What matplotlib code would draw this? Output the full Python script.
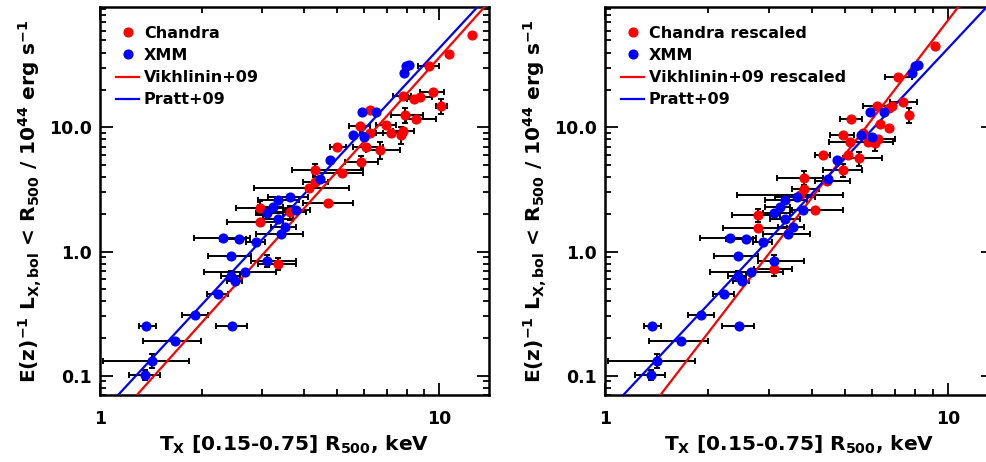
import numpy as np
import matplotlib
matplotlib.use('Agg')
import matplotlib.pyplot as plt
from matplotlib.lines import Line2D
from matplotlib.ticker import FixedLocator, LogLocator, NullFormatter, FixedFormatter

plt.rcParams['font.family'] = ['DejaVu Sans']
plt.rcParams['font.weight'] = 'bold'
plt.rcParams['axes.labelweight'] = 'bold'
plt.rcParams['mathtext.fontset'] = 'custom'
plt.rcParams['mathtext.rm'] = 'DejaVu Sans:bold'
plt.rcParams['mathtext.it'] = 'DejaVu Sans:bold'
plt.rcParams['mathtext.bf'] = 'DejaVu Sans:bold'
plt.rcParams['mathtext.default'] = 'rm'

# ---- Chandra (original calibration), left panel
t_ch = [12.48, 10.65, 9.30, 9.56, 8.77, 8.40, 7.80, 10.12, 7.94, 8.54, 6.25, 5.85, 6.97, 7.21, 6.23,
        7.80, 7.71, 5.00, 6.09, 6.69, 5.89, 4.31, 5.16, 4.29, 4.12, 4.69, 3.64, 2.96, 2.96, 3.35]
l_ch = [55.4, 38.7, 31.0, 19.2, 17.7, 16.9, 17.9, 14.9, 12.6, 11.7, 13.8, 10.3, 10.5, 9.07, 9.07,
        9.36, 8.69, 7.0, 7.0, 6.58, 5.24, 4.54, 4.32, 3.64, 3.24, 2.48, 2.07, 2.25, 1.74, 0.797]
t_ch_lo = [12.48, 10.65, 8.63, 8.79, 8.07, 8.00, 7.29, 9.78, 7.21, 7.98, 6.25, 5.43, 6.51, 6.51, 5.82,
           7.29, 7.71, 4.75, 5.56, 6.09, 5.26, 3.68, 4.24, 3.96, 2.84, 3.96, 3.15, 2.51, 2.36, 2.92]
t_ch_hi = [12.48, 10.65, 9.95, 10.35, 9.52, 8.90, 8.25, 10.5, 8.94, 9.78, 6.25, 6.23, 7.46, 7.98, 6.81,
           8.44, 7.71, 5.32, 6.81, 7.63, 6.58, 5.95, 5.95, 4.69, 5.41, 5.58, 4.05, 3.62, 3.46, 3.79]
l_ch_frac = [0, 0, 0, 0, 0, 0, 0, 0.14, 0.14, 0, 0, 0, 0, 0, 0,
             0, 0.15, 0, 0, 0.15, 0.13, 0.12, 0, 0, 0, 0, 0.13, 0.13, 0, 0.11]

# ---- Chandra rescaled, right panel
t_cr = [9.17, 7.16, 7.36, 6.85, 6.70, 6.22, 7.71, 5.20, 6.34, 6.70, 5.66, 4.92, 5.18, 5.83,
        6.26, 6.13, 4.31, 5.09, 5.48, 4.95, 4.43, 3.81, 3.81, 3.70, 4.09, 2.79, 2.79, 3.10]
l_cr = [45.2, 25.6, 15.9, 14.9, 14.4, 14.9, 12.6, 11.7, 10.6, 9.95, 9.07, 8.69, 7.67, 7.67,
        8.02, 7.45, 6.0, 6.0, 5.64, 4.54, 3.71, 3.94, 3.18, 2.86, 2.17, 1.97, 1.54, 0.722]
t_cr_lo = [9.17, 6.55, 6.77, 6.85, 6.70, 5.66, 7.71, 4.84, 6.34, 6.70, 5.66, 4.53, 4.50, 5.83,
           5.74, 6.13, 4.09, 5.09, 4.95, 4.33, 4.09, 3.17, 3.50, 2.42, 3.50, 2.35, 2.21, 2.72]
t_cr_hi = [9.17, 7.84, 8.11, 6.85, 6.70, 6.77, 7.71, 5.60, 6.34, 6.70, 5.66, 5.30, 6.91, 5.83,
           7.00, 6.13, 4.53, 5.09, 6.41, 5.60, 5.18, 4.33, 4.19, 4.95, 4.95, 3.24, 3.39, 3.50]
l_cr_frac = [0, 0, 0, 0, 0, 0, 0.14, 0, 0, 0, 0, 0, 0, 0,
             0, 0.14, 0, 0, 0.13, 0.12, 0, 0.13, 0, 0, 0, 0.12, 0, 0.12]

# ---- XMM, both panels
t_x = [7.84, 7.98, 8.16, 5.91, 6.51, 5.56, 5.98, 4.75, 4.46, 3.62, 3.35, 3.23, 3.11, 3.77, 3.35, 3.52,
       3.42, 2.31, 2.57, 2.89, 2.44, 3.11, 2.67, 2.44, 2.50, 2.22, 1.91, 1.37, 2.45, 1.66, 1.42, 1.36]
l_x = [27.5, 31.4, 31.6, 13.2, 13.4, 8.69, 8.42, 5.44, 3.82, 2.77, 2.61, 2.28, 2.04, 2.17, 1.82, 1.59,
       1.38, 1.28, 1.26, 1.19, 0.923, 0.846, 0.69, 0.637, 0.574, 0.454, 0.31, 0.253, 0.253, 0.189, 0.132, 0.102]
t_x_lo = [7.84, 7.98, 8.16, 5.91, 6.51, 5.56, 5.98, 4.75, 4.46, 3.13, 2.92, 2.92, 2.89, 3.46, 3.02, 3.20,
          2.89, 1.89, 2.25, 2.70, 2.08, 2.79, 2.02, 2.28, 2.36, 2.06, 1.75, 1.30, 2.19, 1.34, 1.02, 1.22]
t_x_hi = [7.84, 7.98, 8.16, 5.91, 6.51, 5.56, 5.98, 4.75, 4.46, 4.10, 3.87, 3.46, 3.46, 4.15, 3.70, 3.79,
          3.96, 2.76, 2.70, 3.07, 2.79, 3.79, 3.31, 2.58, 2.62, 2.38, 2.08, 1.46, 2.71, 1.99, 1.83, 1.50]
l_x_frac = [0, 0, 0, 0, 0, 0, 0, 0, 0, 0, 0, 0, 0, 0, 0, 0,
            0, 0, 0, 0, 0, 0.11, 0, 0.09, 0, 0, 0, 0, 0, 0, 0.13, 0.10]

# ---- L-T relations: L = norm * (T/5)^slope
vikh = (4.42, 3.05)
vikh_resc = (6.03, 3.60)
pratt = (5.62, 2.95)

RED = '#ff0000'
BLUE = '#0000ff'


def draw_points(ax, t, l, tlo, thi, frac, color):
    t = np.array(t); l = np.array(l)
    xerr = [t - np.array(tlo), np.array(thi) - t]
    yerr = l * np.array(frac)
    ax.errorbar(t, l, xerr=xerr, yerr=yerr, fmt='none', ecolor='black',
                elinewidth=1.4, capsize=2.5, capthick=1.4, zorder=2)
    ax.plot(t, l, 'o', color=color, ms=6.3, mec=color, zorder=4)


def draw_rel(ax, rel, color, tmax):
    tt = np.logspace(0, np.log10(tmax), 200)
    ax.plot(tt, rel[0] * (tt / 5.0) ** rel[1], color=color, lw=1.6, zorder=3)


def style_axes(ax, xmax):
    ax.set_xscale('log')
    ax.set_yscale('log')
    ax.set_xlim(1, xmax)
    ax.set_ylim(0.07, 93)
    ax.xaxis.set_major_locator(FixedLocator([1, 10]))
    ax.xaxis.set_major_formatter(FixedFormatter(['1', '10']))
    ax.yaxis.set_major_locator(FixedLocator([0.1, 1, 10]))
    ax.yaxis.set_major_formatter(FixedFormatter(['0.1', '1.0', '10.0']))
    ax.xaxis.set_minor_locator(LogLocator(subs=np.arange(2, 10)))
    ax.yaxis.set_minor_locator(LogLocator(subs=np.arange(2, 10)))
    ax.xaxis.set_minor_formatter(NullFormatter())
    ax.yaxis.set_minor_formatter(NullFormatter())
    ax.tick_params(which='both', direction='in', top=True, right=True, width=1.3, labelsize=12.5)
    ax.tick_params(which='major', length=9)
    ax.tick_params(which='minor', length=4.5)
    ax.tick_params(axis='x', pad=11)
    ax.tick_params(axis='y', pad=6)
    for lab in ax.get_xticklabels() + ax.get_yticklabels():
        lab.set_fontweight('bold')
    for s in ax.spines.values():
        s.set_linewidth(1.8)
    ax.set_xlabel(r'T$_X$ [0.15-0.75] R$_{500}$, keV', fontsize=14.5, fontweight='bold', labelpad=4)
    ax.set_ylabel(r'E(z)$^{-1}$ L$_{X,bol}$ < R$_{500}$ / 10$^{44}$ erg s$^{-1}$', fontsize=14.5,
                  fontweight='bold', labelpad=3.5)


def add_legend(ax, labels):
    handles = [Line2D([], [], ls='none', marker='o', color=RED, ms=6.3),
               Line2D([], [], ls='none', marker='o', color=BLUE, ms=6.3),
               Line2D([], [], color=RED, lw=1.6),
               Line2D([], [], color=BLUE, lw=1.6)]
    ax.legend(handles, labels, loc='upper left', bbox_to_anchor=(-0.004, 0.997), frameon=False,
              prop={'size': 11.5, 'weight': 'bold'},
              handlelength=1.45, handletextpad=0.3, labelspacing=0.45, borderpad=0.6)


fig = plt.figure(figsize=(9.87, 4.62), dpi=100)
ax1 = fig.add_axes([100 / 987, 67 / 462, 389 / 987, 388 / 462])
ax2 = fig.add_axes([605 / 987, 67 / 462, 388 / 987, 388 / 462])

# left: Chandra vs XMM with original relations
draw_points(ax1, t_ch, l_ch, t_ch_lo, t_ch_hi, l_ch_frac, RED)
draw_points(ax1, t_x, l_x, t_x_lo, t_x_hi, l_x_frac, BLUE)
draw_rel(ax1, vikh, RED, 14)
draw_rel(ax1, pratt, BLUE, 14)
style_axes(ax1, 14)
add_legend(ax1, ['Chandra', 'XMM', 'Vikhlinin+09', 'Pratt+09'])

# right: rescaled Chandra
draw_points(ax2, t_cr, l_cr, t_cr_lo, t_cr_hi, l_cr_frac, RED)
draw_points(ax2, t_x, l_x, t_x_lo, t_x_hi, l_x_frac, BLUE)
draw_rel(ax2, vikh_resc, RED, 13.5)
draw_rel(ax2, pratt, BLUE, 13.5)
style_axes(ax2, 13.5)
add_legend(ax2, ['Chandra rescaled', 'XMM', 'Vikhlinin+09 rescaled', 'Pratt+09'])

fig.savefig('out.png', dpi=100)
